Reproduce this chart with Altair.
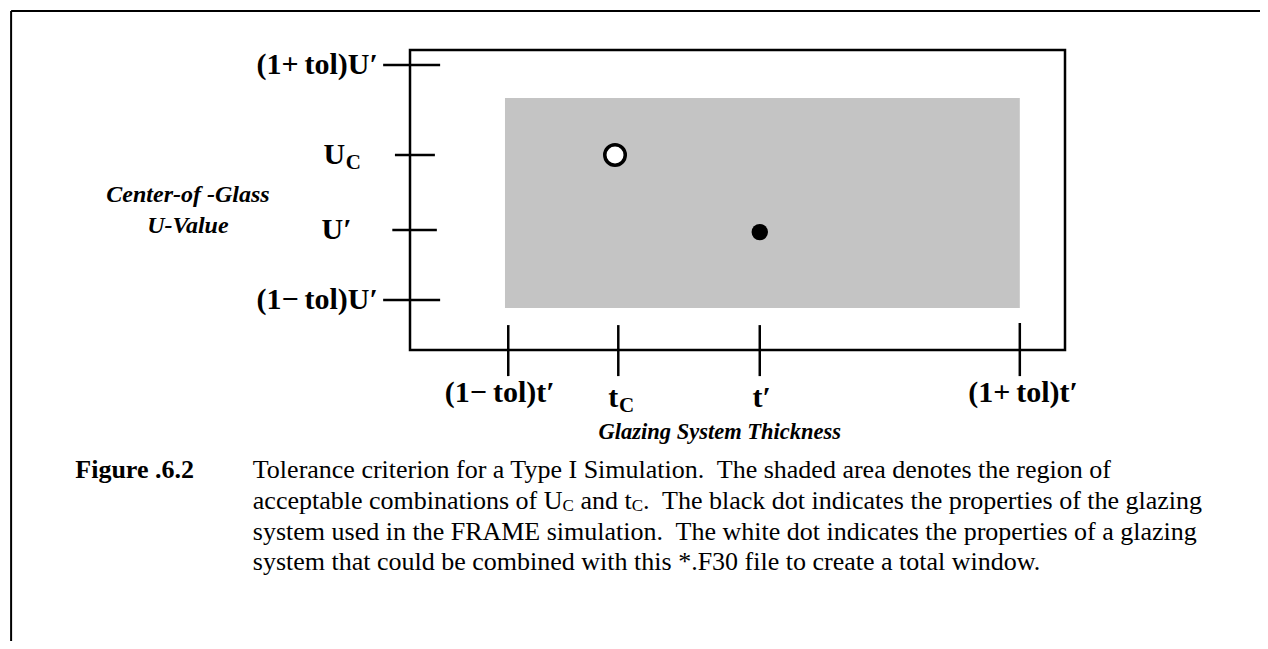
import altair as alt
import pandas as pd

FONT = "Liberation Serif"
NB = "\u00a0"
TH = "\u2009"

# ---------------- data (diagram units: frame spans 0..100 on both axes) ----
region_t = [14.5, 93.1]          # acceptable thickness range
region_u = [14.0, 84.0]          # acceptable U-value range

u_tick_vals = [95.0, 65.0, 40.0, 16.7]
u_tick_x1 = [-4.1, -2.3, -2.7, -4.1]
u_tick_x2 = [4.6, 3.8, 4.1, 4.6]
u_labels = ["(1+" + TH + "tol)U′", "U", "U′", "(1−" + TH + "tol)U′"]
u_label_x = [-4.9, -9.9, -8.9, -4.9]
u_sub_labels = ["C"]
u_sub_x = [-9.8]
u_sub_y = [62.3]

t_tick_vals = [15.0, 31.8, 53.4, 93.1]
t_tick_y1 = [8.3, 8.3, 8.3, 9.0]
t_tick_y2 = [-8.7, -8.7, -8.7, -8.7]
t_labels = ["(1−" + TH + "tol)t′", "t′", "(1+" + TH + "tol)t′"]
t_label_x = [13.7, 53.7, 93.6]
t_label_y = [-14.3, -16.0, -14.3]
tc_main = ["t"]
tc_main_x = [31.8]
tc_main_y = [-16.0]
t_sub_labels = ["C"]
t_sub_x = [31.9]
t_sub_y = [-18.7]

point_names = ["combined glazing (white)", "FRAME glazing (black)"]
point_t = [31.3, 53.4]
point_u = [65.0, 39.3]

y_title_lines = ["Center-of -Glass", "U-Value"]
y_title_x = [-33.9, -33.9]
y_title_y = [51.7, 41.3]
x_title = ["Glazing System Thickness"]
x_title_x = [47.3]
x_title_y = [-27.3]

border_top_y = 113.0
border_left_x = -60.9
border_x_end = 131.0
border_y_end = -100.0

fig_label = ["Figure .6.2"]
fig_label_x = [-51.1]
caption_x0 = -24.0
caption_y = [-40.0, -50.3, -60.7, -70.7]
caption_line1 = "Tolerance criterion for a Type I Simulation." + NB + " The shaded area denotes the region of"
caption_line2 = ["acceptable combinations of U", "C", "and t", "C",
                 "." + NB + " The black dot indicates the properties of the glazing"]
caption_line3 = "system used in the FRAME simulation." + NB + " The white dot indicates the properties of a glazing"
caption_line4 = "system that could be combined with this *.F30 file to create a total window."

# ---------------- layout helpers ----------------
PX_PER_X = 6.55
CAP_SIZE = 26
SUB_SIZE = 17
TIMES = {' ': 250, NB: 250, '.': 250, 'a': 444, 'b': 500, 'c': 444, 'd': 500, 'e': 444,
         'f': 333, 'g': 500, 'h': 500, 'i': 278, 'k': 500, 'l': 278, 'm': 778, 'n': 500,
         'o': 500, 'p': 500, 'r': 333, 's': 389, 't': 278, 'u': 500, 'v': 500, 'w': 722,
         'y': 500, 'z': 444, 'T': 611, 'U': 722, 'C': 667}


def text_w(s, size):
    return sum(TIMES.get(c, 500) for c in s) / 1000.0 * size / PX_PER_X


# positions of the caption's second-line pieces (gap = one space after a subscript)
gaps_after = [0.0, text_w(" ", CAP_SIZE), 0.0, 0.0, 0.0]
seg_x = []
cur = caption_x0
sizes2 = [CAP_SIZE, SUB_SIZE, CAP_SIZE, SUB_SIZE, CAP_SIZE]
for s, sz, g in zip(caption_line2, sizes2, gaps_after):
    seg_x.append(cur)
    cur += text_w(s, sz) + g

XS = alt.Scale(domain=[0, 100])
YS = alt.Scale(domain=[0, 100])


def X(f="x"):
    return alt.X(f + ":Q", scale=XS, axis=None)


def Y(f="y"):
    return alt.Y(f + ":Q", scale=YS, axis=None)


# ---------------- layers ----------------
region = alt.Chart(pd.DataFrame({"x": [region_t[0]], "x2": [region_t[1]],
                                 "y": [region_u[0]], "y2": [region_u[1]]})).mark_rect(
    color="#c4c4c4").encode(x=X(), x2="x2:Q", y=Y(), y2="y2:Q")

u_ticks = alt.Chart(pd.DataFrame({"x": u_tick_x1, "x2": u_tick_x2, "y": u_tick_vals})).mark_rule(
    color="black", strokeWidth=2.5).encode(x=X(), x2="x2:Q", y=Y())

t_ticks = alt.Chart(pd.DataFrame({"x": t_tick_vals, "y": t_tick_y1, "y2": t_tick_y2})).mark_rule(
    color="black", strokeWidth=2.5).encode(x=X(), y=Y(), y2="y2:Q")

border_h = alt.Chart(pd.DataFrame({"x": [border_left_x], "x2": [border_x_end],
                                   "y": [border_top_y]})).mark_rule(
    color="black", strokeWidth=2).encode(x=X(), x2="x2:Q", y=Y())
border_v = alt.Chart(pd.DataFrame({"x": [border_left_x], "y": [border_top_y],
                                   "y2": [border_y_end]})).mark_rule(
    color="black", strokeWidth=2).encode(x=X(), y=Y(), y2="y2:Q")

pts = pd.DataFrame({"name": point_names, "x": point_t, "y": point_u})
white_dot = alt.Chart(pts.iloc[[0]]).mark_point(
    shape="circle", filled=True, fill="white", stroke="black", strokeWidth=3.5,
    size=420, opacity=1).encode(x=X(), y=Y())
black_dot = alt.Chart(pts.iloc[[1]]).mark_point(
    shape="circle", filled=True, color="black", size=270, opacity=1).encode(x=X(), y=Y())


def texts(df, size, weight="normal", style="normal", align="left"):
    return alt.Chart(df).mark_text(font=FONT, fontSize=size, fontWeight=weight, fontStyle=style,
                                   align=align, baseline="middle", color="black").encode(
        x=X(), y=Y(), text="label:N")


u_lab = texts(pd.DataFrame({"label": u_labels, "x": u_label_x, "y": u_tick_vals}), 30, "bold",
              align="right")
u_sub = texts(pd.DataFrame({"label": u_sub_labels, "x": u_sub_x, "y": u_sub_y}), 21, "bold")
t_lab = texts(pd.DataFrame({"label": t_labels, "x": t_label_x, "y": t_label_y}), 30, "bold",
              align="center")
tc_lab = texts(pd.DataFrame({"label": tc_main, "x": tc_main_x, "y": tc_main_y}), 30, "bold",
               align="right")
t_sub = texts(pd.DataFrame({"label": t_sub_labels, "x": t_sub_x, "y": t_sub_y}), 21, "bold")

y_title = texts(pd.DataFrame({"label": y_title_lines, "x": y_title_x, "y": y_title_y}), 24,
                "bold", "italic", "center")
x_title_l = texts(pd.DataFrame({"label": x_title, "x": x_title_x, "y": x_title_y}), 22.5,
                  "bold", "italic", "center")

fig_lab = texts(pd.DataFrame({"label": fig_label, "x": fig_label_x, "y": [caption_y[0]]}),
                CAP_SIZE, "bold")
cap_main = texts(pd.DataFrame({"label": [caption_line1, caption_line3, caption_line4],
                               "x": [caption_x0] * 3,
                               "y": [caption_y[0], caption_y[2], caption_y[3]]}), CAP_SIZE)
cap2_main = texts(pd.DataFrame({"label": [caption_line2[0], caption_line2[2], caption_line2[4]],
                                "x": [seg_x[0], seg_x[2], seg_x[4]],
                                "y": [caption_y[1]] * 3}), CAP_SIZE)
cap2_sub = texts(pd.DataFrame({"label": [caption_line2[1], caption_line2[3]],
                               "x": [seg_x[1], seg_x[3]],
                               "y": [caption_y[1] - 1.8] * 2}), SUB_SIZE)

chart = alt.layer(
    region, border_h, border_v, u_ticks, t_ticks, white_dot, black_dot,
    u_lab, u_sub, t_lab, tc_lab, t_sub, y_title, x_title_l, fig_lab, cap_main, cap2_main,
    cap2_sub
).properties(
    width=655, height=300,
    padding={"left": 402, "top": 42, "right": 195, "bottom": 291},
    autosize=alt.AutoSizeParams(type="none"),
    background="white",
).configure_view(stroke="black", strokeWidth=2.5)

chart.save("out.html", embed_options={"renderer": "svg", "actions": False})
